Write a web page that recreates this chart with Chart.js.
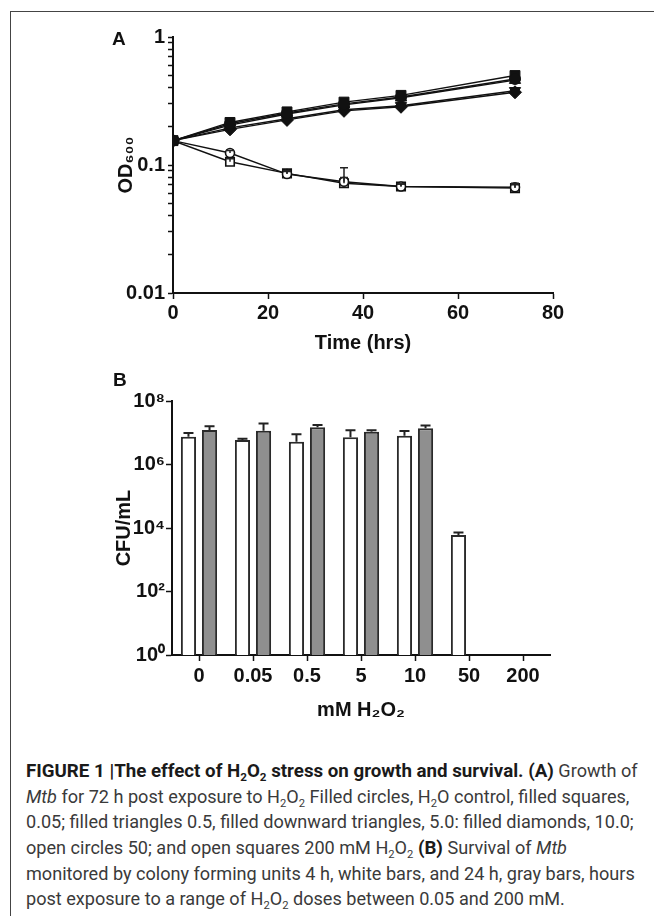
<!DOCTYPE html>
<html lang="en">
<head>
<meta charset="UTF-8">
<title>Figure 1 - H2O2 stress</title>
<script src="https://cdn.jsdelivr.net/npm/chart.js"></script>
<style>
  html, body { margin: 0; padding: 0; background: #fff; }
  body { width: 654px; height: 916px; position: relative; overflow: hidden; }
  .frame { position: absolute; left: 10px; top: 11px; width: 660px; height: 920px;
           border-left: 1px solid #444; border-top: 1px solid #444; }
  #growthChart { position: absolute; left: 0; top: 0; }
  #survivalChart { position: absolute; left: 0; top: 380px; }
  .panel-label { position: absolute; font: bold 19px 'Liberation Sans', Arial, sans-serif; line-height: 19px; color: #111; }
  #caption { position: absolute; left: 26px; top: 758px; font: 18.1px Roboto, 'Liberation Sans', sans-serif;
             line-height: 25.2px; color: #3a3a3a; white-space: nowrap; }
  #caption b { color: #1a1a1a; font-size: 1.035em; }
  #caption sub { font-size: 0.62em; line-height: 0; vertical-align: baseline; position: relative; top: 4px; }
</style>
</head>
<body>
<div class="frame"></div>
<canvas id="growthChart" width="654" height="358"></canvas>
<canvas id="survivalChart" width="654" height="345"></canvas>
<div class="panel-label" style="left:112px; top:29px;">A</div>
<div class="panel-label" style="left:113px; top:370px;">B</div>
<div id="caption">
  <b>FIGURE 1 |The effect of H<sub>2</sub>O<sub>2</sub> stress on growth and survival. (A)</b> Growth of<br>
  <i>Mtb</i> for 72 h post exposure to H<sub>2</sub>O<sub>2</sub> Filled circles, H<sub>2</sub>O control, filled squares,<br>
  0.05; filled triangles 0.5, filled downward triangles, 5.0: filled diamonds, 10.0;<br>
  open circles 50; and open squares 200 mM H<sub>2</sub>O<sub>2</sub> <b>(B)</b> Survival of <i>Mtb</i><br>
  monitored by colony forming units 4 h, white bars, and 24 h, gray bars, hours<br>
  post exposure to a range of H<sub>2</sub>O<sub>2</sub> doses between 0.05 and 200 mM.
</div>
<script>
// ---- panel A data (OD600 over time) ----
const hours = [0, 12, 24, 36, 48, 72];
const odControl = [0.155, 0.21, 0.255, 0.30, 0.34, 0.47];
const od005 = [0.155, 0.215, 0.26, 0.31, 0.35, 0.50];
const od05 = [0.155, 0.205, 0.25, 0.295, 0.335, 0.46];
const od5 = [0.155, 0.195, 0.23, 0.27, 0.29, 0.38];
const od10 = [0.155, 0.19, 0.225, 0.265, 0.285, 0.37];
const od50 = [0.155, 0.124, 0.085, 0.074, 0.068, 0.067];
const od50Hi = [null, 0.13, 0.089, 0.095, 0.071, 0.072];
const od200 = [0.155, 0.106, 0.086, 0.072, 0.068, 0.066];
const od200Hi = [null, 0.112, 0.09, 0.08, 0.071, 0.07];
const yMajorA = [0.01, 0.1, 1];
const yLabelsA = ['0.01', '0.1', '1'];

// ---- panel B data (CFU/mL by dose) ----
const doses = ['0', '0.05', '0.5', '5', '10', '50', '200'];
const cfu4h = [7.5e6, 5.9e6, 5.2e6, 7.2e6, 8.1e6, 6.0e3, null];
const cfu4hHi = [9.9e6, 6.5e6, 8.9e6, 1.19e7, 1.13e7, 7.2e3, null];
const cfu24h = [1.22e7, 1.16e7, 1.48e7, 1.07e7, 1.38e7, null, null];
const cfu24hHi = [1.6e7, 1.95e7, 1.77e7, 1.2e7, 1.7e7, null, null];
const yTicksB = [1, 1e2, 1e4, 1e6, 1e8];
const yLabelsB = ['10⁰', '10²', '10⁴', '10⁶', '10⁸'];

const INK = '#111';
const axisFont = { family: "'Liberation Sans', Arial, sans-serif", size: 20, weight: 'bold' };
Chart.defaults.font.family = axisFont.family;
Chart.defaults.color = INK;

// upper error bars, drawn from each element to the value in dataset.errorHi
const errorBars = {
  id: 'errorBars',
  afterDatasetsDraw(chart) {
    const ctx = chart.ctx;
    chart.data.datasets.forEach((ds, di) => {
      if (!ds.errorHi) return;
      const meta = chart.getDatasetMeta(di);
      const yScale = chart.scales[meta.yAxisID];
      ctx.save();
      ctx.strokeStyle = '#222';
      ctx.lineWidth = ds.errorWidth || 1.5;
      meta.data.forEach((el, i) => {
        const hi = ds.errorHi[i];
        if (hi == null || ds.data[i] == null) return;
        const yHi = yScale.getPixelForValue(hi);
        const cap = ds.capWidth || 4;
        ctx.beginPath();
        ctx.moveTo(el.x, el.y);
        ctx.lineTo(el.x, yHi);
        ctx.moveTo(el.x - cap, yHi);
        ctx.lineTo(el.x + cap, yHi);
        ctx.stroke();
      });
      ctx.restore();
    });
  }
};

const toPoints = vals => hours.map((h, i) => ({ x: h, y: vals[i] }));
const lineSet = (label, vals, style, radius, filled, extra) => Object.assign({
  label: label,
  data: toPoints(vals),
  borderColor: INK,
  borderWidth: 1.4,
  pointStyle: style,
  pointRadius: radius,
  pointBackgroundColor: filled ? INK : '#fff',
  pointBorderColor: INK,
  pointBorderWidth: filled ? 1 : 1.6,
}, extra || {});

// minor + major tick positions for the log axis of panel A
const yTickValuesA = [];
yMajorA.slice(0, -1).forEach(d => { for (let k = 1; k < 10; k++) yTickValuesA.push(d * k); });
yTickValuesA.push(yMajorA[yMajorA.length - 1]);

new Chart(document.getElementById('growthChart'), {
  type: 'line',
  data: {
    datasets: [
      lineSet('H2O control', odControl, 'circle', 5.5, true),
      lineSet('0.05 mM', od005, 'rect', 7, true),
      lineSet('0.5 mM', od05, 'triangle', 6.5, true),
      lineSet('5.0 mM', od5, 'triangle', 6.5, true, { pointRotation: 180 }),
      lineSet('10.0 mM', od10, 'rectRot', 6.5, true),
      lineSet('50 mM', od50, 'circle', 4.5, false, { errorHi: od50Hi }),
      lineSet('200 mM', od200, 'rect', 6, false, { errorHi: od200Hi }),
    ]
  },
  options: {
    responsive: false,
    animation: false,
    layout: { padding: { left: 110, top: 37, right: 101, bottom: 0 } },
    plugins: { legend: { display: false }, tooltip: { enabled: false } },
    scales: {
      x: {
        type: 'linear', min: 0, max: 80,
        afterFit: s => { s.height = 65; },
        border: { color: INK, width: 2 },
        grid: { drawOnChartArea: false, tickLength: 6, tickColor: INK, tickWidth: 1.5 },
        ticks: { stepSize: 20, font: axisFont, color: INK, padding: 2 },
        title: { display: true, text: 'Time (hrs)', font: axisFont, color: INK, padding: { top: 0, bottom: 3 } }
      },
      y: {
        type: 'logarithmic', min: 0.01, max: 1,
        afterFit: s => { s.width = 63; },
        afterBuildTicks: s => { s.ticks = yTickValuesA.map(v => ({ value: v })); },
        border: { color: INK, width: 2 },
        grid: { drawOnChartArea: false, tickLength: 5, tickColor: INK, tickWidth: 1.5 },
        ticks: {
          autoSkip: false, font: axisFont, color: INK, padding: 3,
          callback: v => { const i = yMajorA.indexOf(v); return i >= 0 ? yLabelsA[i] : ''; }
        },
        title: { display: true, text: 'OD₆₀₀', font: axisFont, color: INK, padding: 4 }
      }
    }
  },
  plugins: [errorBars]
});

new Chart(document.getElementById('survivalChart'), {
  type: 'bar',
  data: {
    labels: doses,
    datasets: [
      { label: '4 h', data: cfu4h, errorHi: cfu4hHi, backgroundColor: '#fff', borderColor: '#2a2a2a',
        borderWidth: 2, capWidth: 5, errorWidth: 2 },
      { label: '24 h', data: cfu24h, errorHi: cfu24hHi, backgroundColor: '#8f8f8f', borderColor: '#2a2a2a',
        borderWidth: 2, capWidth: 5, errorWidth: 2 }
    ]
  },
  options: {
    responsive: false,
    animation: false,
    categoryPercentage: 0.78,
    barPercentage: 0.72,
    layout: { padding: { left: 108, top: 21, right: 104, bottom: 0 } },
    plugins: { legend: { display: false }, tooltip: { enabled: false } },
    scales: {
      x: {
        afterFit: s => { s.height = 70; },
        border: { color: INK, width: 2 },
        grid: { offset: false, drawOnChartArea: false, tickLength: 6, tickColor: INK, tickWidth: 1.5 },
        ticks: { font: axisFont, color: INK, padding: 3 },
        title: { display: true, text: 'mM H₂O₂', font: axisFont, color: INK, padding: { top: 0, bottom: 3 } }
      },
      y: {
        type: 'logarithmic', min: 1, max: 1e8,
        afterFit: s => { s.width = 64; },
        afterBuildTicks: s => { s.ticks = yTicksB.map(v => ({ value: v })); },
        border: { color: INK, width: 2 },
        grid: { drawOnChartArea: false, tickLength: 6, tickColor: INK, tickWidth: 1.5 },
        ticks: {
          autoSkip: false, font: axisFont, color: INK, padding: 1,
          callback: v => { const i = yTicksB.indexOf(v); return i >= 0 ? yLabelsB[i] : ''; }
        },
        title: { display: true, text: 'CFU/mL', font: axisFont, color: INK, padding: 4 }
      }
    }
  },
  plugins: [errorBars]
});
</script>
</body>
</html>
